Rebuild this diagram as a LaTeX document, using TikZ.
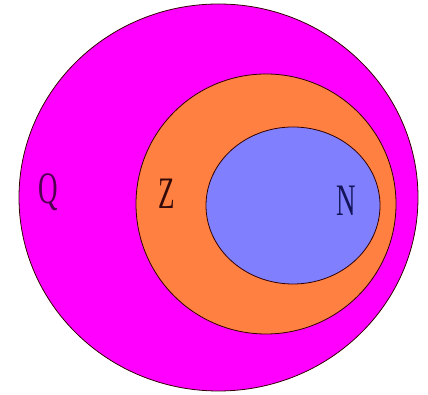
\documentclass[tikz,border=0pt]{standalone}
\usepackage{fontspec}
\setmainfont{Liberation Serif}
\begin{document}
\begin{tikzpicture}[x=1pt,y=1pt,
  setline/.style={draw=black!80!red, line width=0.8pt},
  lbl/.style={font=\fontsize{45}{45}\selectfont, xscale=0.6, inner sep=0pt}]
\definecolor{qcol}{RGB}{255,0,255}
\definecolor{zcol}{RGB}{255,128,64}
\definecolor{ncol}{RGB}{128,128,255}
\definecolor{qtext}{RGB}{80,0,80}
\definecolor{ztext}{RGB}{50,10,10}
\definecolor{ntext}{RGB}{20,20,90}
\useasboundingbox[fill=white] (0,0) rectangle (428,395);
\path[setline, fill=qcol] (218.5,197.5) ellipse [x radius=199.5, y radius=193.5];
\path[setline, fill=zcol] (266,191) ellipse [x radius=130, y radius=130];
\path[setline, fill=ncol] (293,189.5) ellipse [x radius=87, y radius=78.5];
\node[lbl, text=qtext] (q) at (48,203) {Q};
\node[lbl, text=ztext] (z) at (167,201) {Z};
\node[lbl, text=ntext] (n) at (346,194) {N};
\end{tikzpicture}
\end{document}
